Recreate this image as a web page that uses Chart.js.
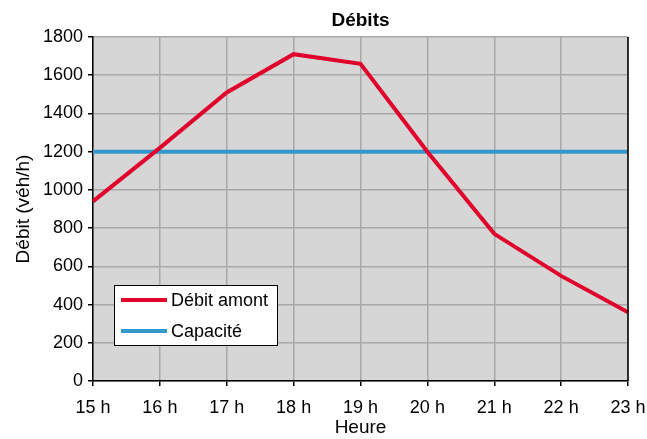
<!DOCTYPE html>
<html>
<head>
<meta charset="utf-8">
<script src="https://cdn.jsdelivr.net/npm/chart.js@4/dist/chart.umd.min.js"></script>
<style>
  html, body { margin: 0; padding: 0; background: #fff; }
  #wrap { width: 647px; height: 439px; }
</style>
</head>
<body>
<div id="wrap"><canvas id="c" width="647" height="439"></canvas></div>
<script>
const heures = ['15 h', '16 h', '17 h', '18 h', '19 h', '20 h', '21 h', '22 h', '23 h'];
const debitAmont = [940, 1220, 1510, 1710, 1660, 1200, 770, 550, 360];
const capacite = [1200, 1200, 1200, 1200, 1200, 1200, 1200, 1200, 1200];
const yTicks = [0, 200, 400, 600, 800, 1000, 1200, 1400, 1600, 1800];

const FONT = '"Liberation Sans", Arial, sans-serif';

const decor = {
  id: 'decor',
  beforeDraw(chart) {
    const { ctx, chartArea: a } = chart;
    ctx.save();
    ctx.fillStyle = '#d6d6d6';
    ctx.fillRect(a.left, a.top, a.right - a.left, a.bottom - a.top);
    ctx.restore();
  },
  afterDraw(chart) {
    const { ctx, chartArea: a } = chart;
    ctx.save();
    // right frame edge
    ctx.strokeStyle = '#000';
    ctx.lineWidth = 1.5;
    ctx.beginPath();
    ctx.moveTo(a.right, a.top);
    ctx.lineTo(a.right, a.bottom);
    ctx.stroke();

    // title
    ctx.fillStyle = '#000';
    ctx.font = 'bold 19px ' + FONT;
    ctx.textAlign = 'center';
    ctx.textBaseline = 'middle';
    ctx.fillText('Débits', (a.left + a.right) / 2, 21);

    // legend
    const lx = 114, ly = 285, lw = 163, lh = 60;
    ctx.fillStyle = '#fff';
    ctx.fillRect(lx, ly, lw, lh);
    ctx.strokeStyle = '#000';
    ctx.lineWidth = 1;
    ctx.strokeRect(lx + 0.5, ly + 0.5, lw, lh);
    const rows = [300, 331];
    chart.data.datasets.forEach((ds, i) => {
      ctx.strokeStyle = ds.borderColor;
      ctx.lineWidth = 4;
      ctx.beginPath();
      ctx.moveTo(121, rows[i]);
      ctx.lineTo(167, rows[i]);
      ctx.stroke();
      ctx.fillStyle = '#000';
      ctx.font = '18px ' + FONT;
      ctx.textAlign = 'left';
      ctx.textBaseline = 'middle';
      ctx.fillText(ds.label, 171, rows[i] + 1);
    });
    ctx.restore();
  }
};

new Chart(document.getElementById('c'), {
  type: 'line',
  data: {
    labels: heures,
    datasets: [
      {
        label: 'Débit amont',
        data: debitAmont,
        borderColor: '#e0002b',
        borderWidth: 4,
        pointRadius: 0,
        tension: 0,
        fill: false
      },
      {
        label: 'Capacité',
        data: capacite,
        borderColor: '#3399cc',
        borderWidth: 4,
        pointRadius: 0,
        tension: 0,
        fill: false
      }
    ]
  },
  options: {
    responsive: false,
    animation: false,
    events: [],
    layout: { padding: { left: 12, right: 0, top: 37, bottom: 0 } },
    plugins: {
      legend: { display: false },
      title: { display: false },
      tooltip: { enabled: false }
    },
    scales: {
      x: {
        type: 'category',
        offset: false,
        grid: {
          color: '#a8a8a8',
          lineWidth: 1.5,
          tickColor: '#000',
          tickLength: 5
        },
        border: { color: '#000', width: 1.5 },
        ticks: {
          color: '#000',
          font: { family: FONT, size: 18 },
          padding: 11,
          maxRotation: 0,
          autoSkip: false
        },
        title: {
          display: true,
          text: 'Heure',
          color: '#000',
          font: { family: FONT, size: 19 },
          padding: { top: 2, bottom: 0 }
        },
        afterFit(scale) {
          scale.height = 58;
          scale.paddingRight = 19;
          scale.paddingLeft = 0;
        }
      },
      y: {
        min: 0,
        max: 1800,
        afterBuildTicks(scale) { scale.ticks = yTicks.map(v => ({ value: v })); },
        grid: {
          color: '#a8a8a8',
          lineWidth: 1.5,
          tickColor: '#000',
          tickLength: 5
        },
        border: { color: '#000', width: 1.5 },
        ticks: {
          color: '#000',
          font: { family: FONT, size: 18 },
          padding: 5,
          callback: v => String(v)
        },
        title: {
          display: true,
          text: 'Débit (véh/h)',
          color: '#000',
          font: { family: FONT, size: 19 },
          padding: { top: 0, bottom: 4 }
        },
        afterFit(scale) { scale.width = 81; }
      }
    }
  },
  plugins: [decor]
});
</script>
</body>
</html>
